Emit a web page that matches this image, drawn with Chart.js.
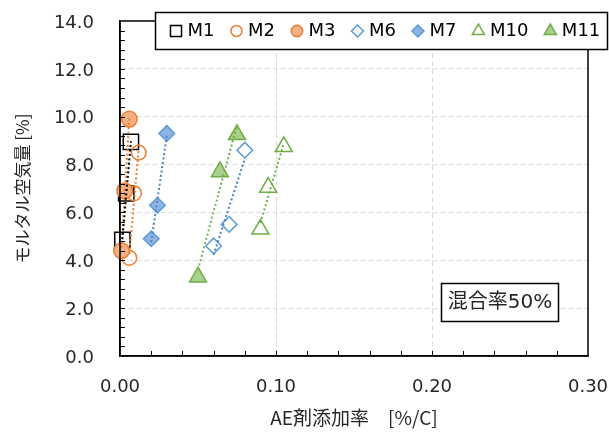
<!DOCTYPE html>
<html>
<head>
<meta charset="utf-8">
<script src="https://cdn.jsdelivr.net/npm/chart.js@4.4.1/dist/chart.umd.min.js"></script>
<style>
  html, body { margin: 0; padding: 0; background: #fff; }
  #wrap { width: 609px; height: 432px; }
</style>
</head>
<body>
<div id="wrap"><canvas id="airChart" width="609" height="432"></canvas></div>
<script>
// series data (x = AE剤添加率, y = モルタル空気量)
const seriesNames = ['M1', 'M2', 'M3', 'M6', 'M7', 'M10', 'M11'];
const m1X = [0.0015, 0.004, 0.007];
const m1Y = [4.85, 6.8, 8.95];
const m2X = [0.006, 0.009, 0.012];
const m2Y = [4.1, 6.8, 8.5];
const m3X = [0.001, 0.003, 0.006];
const m3Y = [4.4, 6.9, 9.9];
const m6X = [0.060, 0.070, 0.080];
const m6Y = [4.6, 5.5, 8.6];
const m7X = [0.020, 0.024, 0.030];
const m7Y = [4.9, 6.3, 9.3];
const m10X = [0.090, 0.095, 0.105];
const m10Y = [5.3, 7.05, 8.75];
const m11X = [0.050, 0.064, 0.075];
const m11Y = [3.3, 7.7, 9.25];

const xMin = 0, xMax = 0.3, xStep = 0.1, xMinorStep = 0.02;
const yMin = 0, yMax = 14, yStep = 2, yMinorStep = 0.4;
const xTitle = 'AE剤添加率\u3000[%/C]';
const yTitle = 'モルタル空気量 [%]';
const boxLabel = '混合率50%';

const allX = [m1X, m2X, m3X, m6X, m7X, m10X, m11X];
const allY = [m1Y, m2Y, m3Y, m6Y, m7Y, m10Y, m11Y];

const ORANGE = '#ED7D31', BLUE = '#5B9BD5', GREEN = '#70AD47';
const NONE = 'rgba(0,0,0,0)';
const looks = [
  { style: 'rect',     r: 10.8, lr: 7.8, line: '#000', fill: NONE,      trend: '#000' },
  { style: 'circle',   r: 7.3,  lr: 5.5, line: ORANGE, fill: NONE,      trend: ORANGE },
  { style: 'circle',   r: 7.8,  lr: 5.7, line: ORANGE, fill: '#F4B183', trend: ORANGE },
  { style: 'rectRot',  r: 7.8,  lr: 6,   line: BLUE,   fill: NONE,      trend: '#4A85C9' },
  { style: 'rectRot',  r: 7.8,  lr: 6,   line: BLUE,   fill: '#8FB4E3', trend: '#4A85C9' },
  { style: 'triangle', r: 9.8,  lr: 7,   line: GREEN,  fill: NONE,      trend: GREEN },
  { style: 'triangle', r: 9.8,  lr: 7,   line: GREEN,  fill: '#A9D18E', trend: GREEN }
];

const FONT = '"DejaVu Sans", "Noto Sans CJK JP", sans-serif';
const JFONT = '"Noto Sans CJK JP", "DejaVu Sans", sans-serif';
const TEXT = '#262626';

// linear trendline (least squares) over the series' x range
function trendEnds(xs, ys) {
  const n = xs.length;
  const mx = xs.reduce((a, b) => a + b, 0) / n;
  const my = ys.reduce((a, b) => a + b, 0) / n;
  let sxx = 0, sxy = 0;
  for (let i = 0; i < n; i++) {
    sxx += (xs[i] - mx) * (xs[i] - mx);
    sxy += (xs[i] - mx) * (ys[i] - my);
  }
  const b = sxy / sxx, a = my - b * mx;
  const x0 = Math.min(...xs), x1 = Math.max(...xs);
  return [{ x: x0, y: a + b * x0 }, { x: x1, y: a + b * x1 }];
}

const datasets = [];
seriesNames.forEach((name, i) => {
  const lk = looks[i];
  datasets.push({
    label: name,
    data: allX[i].map((x, j) => ({ x: x, y: allY[i][j] })),
    pointStyle: lk.style,
    pointRadius: lk.r,
    pointHoverRadius: lk.r,
    pointBorderWidth: 1.5,
    pointBorderColor: lk.line,
    pointBackgroundColor: lk.fill,
    showLine: false,
    clip: false,
    order: 20 - i
  });
});
seriesNames.forEach((name, i) => {
  datasets.push({
    type: 'line',
    label: name + ' trend',
    data: trendEnds(allX[i], allY[i]),
    borderColor: looks[i].trend,
    borderWidth: 2,
    borderDash: [2, 2.4],
    pointRadius: 0,
    fill: false,
    clip: false,
    order: i
  });
});

const decor = {
  id: 'decor',
  afterDatasetsDraw(chart) {
    const { ctx, chartArea: ca, scales } = chart;
    ctx.save();
    ctx.strokeStyle = '#000';
    ctx.lineWidth = 1;
    ctx.beginPath();
    const nx = Math.round((xMax - xMin) / xMinorStep);
    for (let i = 1; i < nx; i++) {
      const px = Math.round(scales.x.getPixelForValue(xMin + i * xMinorStep)) + 0.5;
      ctx.moveTo(px, ca.bottom);
      ctx.lineTo(px, ca.bottom - 5);
    }
    const ny = Math.round((yMax - yMin) / yMinorStep);
    for (let i = 1; i < ny; i++) {
      const py = Math.round(scales.y.getPixelForValue(yMin + i * yMinorStep)) + 0.5;
      ctx.moveTo(ca.left, py);
      ctx.lineTo(ca.left + 5, py);
    }
    ctx.stroke();
    ctx.lineWidth = 1.5;
    ctx.strokeRect(ca.left, ca.top, ca.right - ca.left, ca.bottom - ca.top);
    ctx.restore();
  },
  afterDraw(chart) {
    const ctx = chart.ctx;
    ctx.save();
    // legend box
    ctx.fillStyle = '#fff';
    ctx.fillRect(155.5, 12.5, 452, 37);
    ctx.strokeStyle = '#000';
    ctx.lineWidth = 1.5;
    ctx.strokeRect(155.5, 12.5, 452, 37);
    ctx.font = '18px ' + FONT;
    ctx.textBaseline = 'middle';
    ctx.textAlign = 'left';
    let mx = 176;
    const ly = 31;
    seriesNames.forEach((name, i) => {
      const lk = looks[i];
      ctx.fillStyle = lk.fill;
      ctx.strokeStyle = lk.line;
      ctx.lineWidth = 1.5;
      Chart.helpers.drawPoint(ctx, { pointStyle: lk.style, radius: lk.lr, rotation: 0, borderWidth: 1.5 }, mx, ly);
      const tx = mx + 11.5;
      ctx.fillStyle = '#000';
      ctx.fillText(name, tx, ly);
      mx = tx + ctx.measureText(name).width + 22;
    });
    // annotation box
    ctx.fillStyle = '#fff';
    ctx.fillRect(441.5, 283.5, 117, 38);
    ctx.strokeStyle = '#000';
    ctx.lineWidth = 1.5;
    ctx.strokeRect(441.5, 283.5, 117, 38);
    ctx.fillStyle = TEXT;
    ctx.font = '20px ' + FONT;
    ctx.textAlign = 'center';
    ctx.fillText(boxLabel, 500, 303);
    ctx.restore();
  }
};

new Chart(document.getElementById('airChart'), {
  type: 'scatter',
  data: { datasets: datasets },
  options: {
    responsive: false,
    devicePixelRatio: 1,
    animation: false,
    layout: { padding: { left: 0, right: 21, top: 21, bottom: 0 } },
    plugins: {
      legend: { display: false },
      tooltip: { enabled: false }
    },
    scales: {
      x: {
        type: 'linear',
        min: xMin,
        max: xMax,
        afterFit: (s) => { s.height = 76; s.paddingRight = 0; s.paddingLeft = 0; },
        ticks: {
          stepSize: xStep,
          color: TEXT,
          padding: 21,
          font: { family: FONT, size: 18 },
          callback: (v) => v.toFixed(2)
        },
        grid: {
          drawTicks: false,
          color: (c) => (c.tick && c.tick.value > 0.001 && c.tick.value < xMax - 0.001) ? '#D9D9D9' : NONE,
          lineWidth: 1
        },
        border: { display: true, color: '#000', width: 1.5, dash: [5, 3] },
        title: {
          display: true,
          text: xTitle,
          color: TEXT,
          align: 'center',
          font: { family: JFONT, size: 19 },
          padding: { top: 0, bottom: 3 }
        }
      },
      y: {
        type: 'linear',
        min: yMin,
        max: yMax,
        afterFit: (s) => { s.width = 120; s.paddingTop = 0; s.paddingBottom = 0; },
        ticks: {
          stepSize: yStep,
          color: TEXT,
          padding: 26,
          labelOffset: 2,
          font: { family: FONT, size: 18 },
          callback: (v) => v.toFixed(1)
        },
        grid: {
          drawTicks: false,
          color: (c) => (c.tick && c.tick.value > 0.001 && c.tick.value < yMax - 0.001) ? '#D9D9D9' : NONE,
          lineWidth: 1
        },
        border: { display: true, color: '#000', width: 1.5, dash: [5, 3] },
        title: {
          display: true,
          text: yTitle,
          color: TEXT,
          font: { family: JFONT, size: 17 },
          padding: { top: 12, bottom: 0 }
        }
      }
    }
  },
  plugins: [decor]
});
</script>
</body>
</html>
